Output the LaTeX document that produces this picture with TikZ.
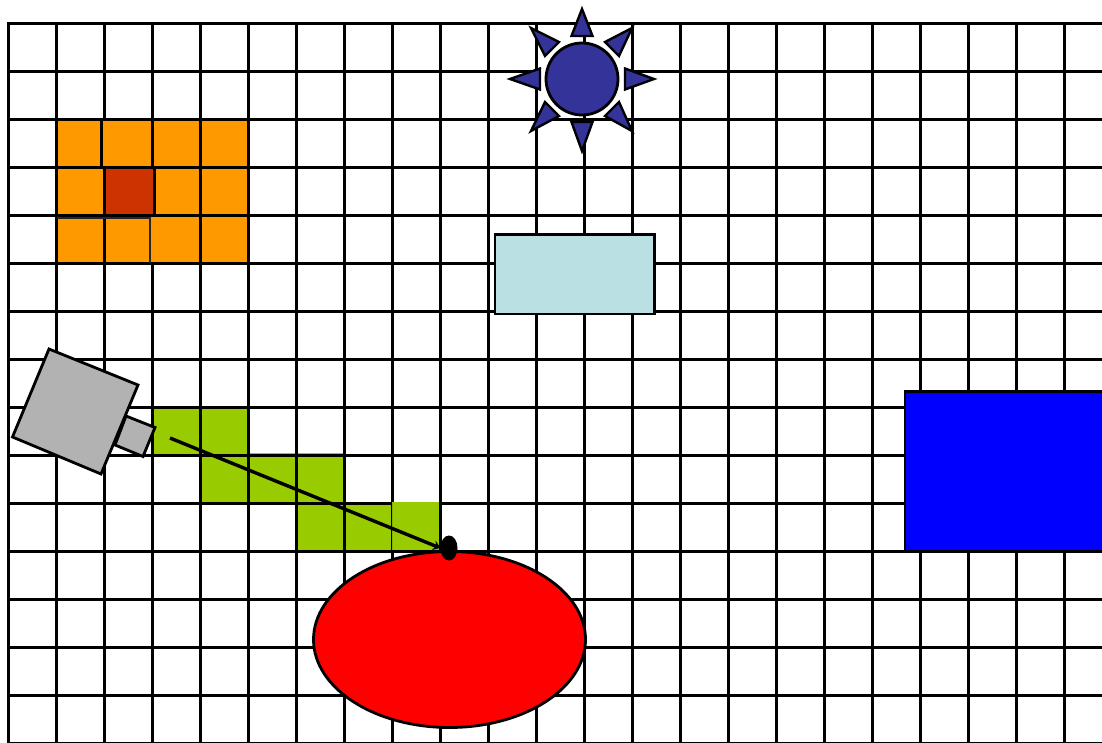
\documentclass[tikz,border=0pt]{standalone}
\usetikzlibrary{shapes.geometric, arrows.meta}
\definecolor{cellorange}{HTML}{FF9900}
\definecolor{cellred}{HTML}{CC3300}
\definecolor{cellgreen}{HTML}{99CC00}
\definecolor{cellolive}{HTML}{86B300}
\definecolor{sunblue}{HTML}{333399}
\definecolor{boxpale}{HTML}{BBE0E3}
\definecolor{cameragray}{HTML}{B2B2B2}
\tikzset{
  gridline/.style={line width=3pt, black},
  outline/.style={draw=black, line width=2.8pt, line join=miter},
  ray/.style={outline, fill=sunblue, line width=2.4pt}
}
\begin{document}
\begin{tikzpicture}[x=1pt,y=-1pt]
  \useasboundingbox (0,0) rectangle (1102,743);
  \fill[white] (0,0) rectangle (1102,743);

  % Green path
  \fill[cellgreen] (152,407) rectangle (248,455);
  \fill[cellgreen] (200,453) rectangle (344,503);
  \fill[cellgreen] (296,503) rectangle (392,551);

  % Orange block
  \fill[cellorange] (57,120) rectangle (248,263);

  % Grid
  \foreach \xpos in {8.5,56.5,...,1064.5}
    \draw[gridline] (\xpos,23) -- (\xpos,743);
  \foreach \ypos in {23.5,71.5,...,743.5}
    \draw[gridline] (7,\ypos) -- (1102,\ypos);

  % Orange block, cells that differ
  \fill[cellorange] (58,121) rectangle (103,166);
  \fill[cellorange] (103,121) rectangle (151,166);
  \draw[gridline] (101.5,119) -- (101.5,167);
  \fill[cellred] (105.5,169) rectangle (153,214);
  \draw[gridline] (154,168) -- (154,216);
  \fill[cellorange] (106,218) rectangle (150,262);
  \fill[cellorange] (151,217.5) rectangle (199,262);
  \draw[black!85, line width=2.2pt] (57,218) -- (150,218) -- (150,263);

  % Last green cell
  \fill[cellgreen] (392,502) rectangle (439,550);
  \draw[cellolive, line width=0.8pt] (392,503) -- (392,550);

  % Pale box and blue box
  \draw[outline, fill=boxpale] (495,234.5) rectangle (654.5,314);
  \draw[outline, fill=blue] (905,391.5) rectangle (1106,551);

  % Sun
  \fill[white] (541,69) rectangle (547,74);
  \fill[white] (618,69) rectangle (624,74);
  \draw[ray, line width=2.8pt] (582,79) circle (36);
  \draw[ray] (582,9) -- (592.5,36) -- (571.5,36) -- cycle;
  \draw[ray] (582,151) -- (592.5,122) -- (571.5,122) -- cycle;
  \draw[ray] (510,79) -- (540,68.5) -- (540,89.5) -- cycle;
  \draw[ray] (654,79) -- (625,68.5) -- (625,89.5) -- cycle;
  \draw[ray] (531,28) -- (559,42) -- (545,56) -- cycle;
  \draw[ray] (632,28) -- (605,42) -- (619,56) -- cycle;
  \draw[ray] (531,131) -- (559,116) -- (545,102) -- cycle;
  \draw[ray] (632,131) -- (605,116) -- (619,102) -- cycle;

  % Camera
  \draw[outline, fill=cameragray] (126,416) -- (155,427.5) -- (143,456.5) -- (115,445) -- cycle;
  \draw[outline, fill=cameragray] (49,349) -- (138,385) -- (101,474) -- (12.5,437) -- cycle;

  % Red ellipse
  \node[ellipse, draw=black, line width=2.8pt, fill=red, inner sep=0pt,
    minimum width=272pt, minimum height=176pt] (target) at (449.5,639.5) {};

  % Beam
  \coordinate (beamstart) at (170,438);
  \node[ellipse, fill=black, inner sep=0pt, minimum width=17pt, minimum height=25pt] (spot) at (449,548) {};
  \draw[line width=3.4pt, -{Stealth[length=7pt,width=10pt]}] (beamstart) -- (spot.west);
\end{tikzpicture}
\end{document}
